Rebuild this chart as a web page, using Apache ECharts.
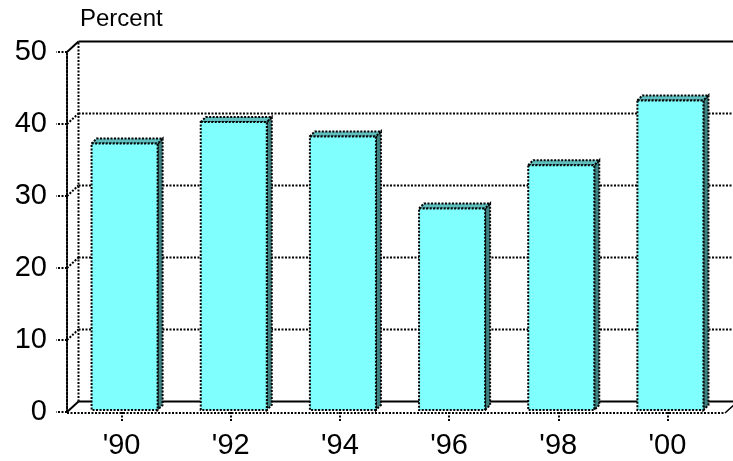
<!DOCTYPE html>
<html>
<head>
<meta charset="utf-8">
<script src="https://cdn.jsdelivr.net/npm/echarts@6/dist/echarts.min.js"></script>
<style>html,body{margin:0;padding:0;background:#fff}#c{width:733px;height:461px}</style>
</head>
<body>
<div id="c"></div>
<script>
const categories = ["'90", "'92", "'94", "'96", "'98", "'00"];
const percentValues = [37, 40, 38, 28, 34, 43];
const yTicks = [0, 10, 20, 30, 40, 50];

const FONT = '"Liberation Sans", Arial, sans-serif';
const WALL_DX = 11.5, WALL_DY = -10.5;   // depth of the 3D frame
const BAR_DX = 5, BAR_DY = -5;           // depth of each bar
const BAR_OX = 3, BAR_OY = -2;           // bar placement inside the depth
const DOT = [2, 1.5];
const LW = 2;

const chart = echarts.init(document.getElementById('c'), null, {renderer: 'canvas'});

function frameItem(params, api) {
  const cs = params.coordSys;
  const v = api.value(0);
  const p = api.coord([0, v]);
  const x0 = cs.x, y = p[1];
  const xb = x0 + WALL_DX, yb = y + WALL_DY;
  const xr = cs.x + cs.width + WALL_DX + 4;
  const children = [];
  const solid = (v === 0 || v === 50);
  children.push({type: 'line', shape: {x1: x0, y1: y, x2: xb, y2: yb},
    style: {stroke: '#000', lineWidth: solid ? 2 : LW, lineDash: solid ? null : DOT}});
  children.push({type: 'line', shape: {x1: xb, y1: yb, x2: xr, y2: yb},
    style: {stroke: '#000', lineWidth: solid ? 2.2 : LW, lineDash: solid ? null : DOT}});
  if (v === 0) {
    const top = api.coord([0, 50]);
    children.push({type: 'line', shape: {x1: xb, y1: yb, x2: xb, y2: top[1] + WALL_DY},
      style: {stroke: '#000', lineWidth: LW, lineDash: DOT}});
    const xf = cs.x + cs.width + 3;
    children.push({type: 'line', shape: {x1: x0, y1: y + 1, x2: xf, y2: y + 1},
      style: {stroke: '#000', lineWidth: 2.2, lineDash: DOT}});
    children.push({type: 'line', shape: {x1: xf, y1: y + 1, x2: xf + WALL_DX, y2: y + 1 + WALL_DY},
      style: {stroke: '#000', lineWidth: 1.5}});
  }
  return {type: 'group', children: children};
}

function barItem(params, api) {
  const i = api.value(0), v = api.value(1);
  const base = api.coord([i, 0]);
  const top = api.coord([i, v]);
  const w = api.size([1, 0])[0] * 0.605;
  const cx = base[0] + BAR_OX;
  const by = base[1] + BAR_OY, ty = top[1] + BAR_OY;
  const l = cx - w / 2, r = cx + w / 2;
  const stroke = {stroke: '#000', lineWidth: LW, lineDash: DOT};
  return {type: 'group', children: [
    {type: 'polygon', shape: {points: [[r, ty], [r + BAR_DX, ty + BAR_DY], [r + BAR_DX, by + BAR_DY], [r, by]]},
      style: Object.assign({fill: '#3f8080'}, stroke)},
    {type: 'polygon', shape: {points: [[l, ty], [l + BAR_DX, ty + BAR_DY], [r + BAR_DX, ty + BAR_DY], [r, ty]]},
      style: Object.assign({fill: '#5fbfbf'}, stroke)},
    {type: 'rect', shape: {x: l, y: ty, width: w, height: by - ty},
      style: Object.assign({fill: '#80ffff'}, stroke)}
  ]};
}

chart.setOption({
  animation: false,
  backgroundColor: '#fff',
  textStyle: {fontFamily: FONT},
  grid: {left: 67, top: 52, width: 655, height: 360},
  xAxis: {
    type: 'category', data: categories, boundaryGap: true,
    axisLine: {show: false},
    axisTick: {show: true, alignWithLabel: true, length: 9, lineStyle: {color: '#000', width: LW, type: DOT}},
    axisLabel: {fontSize: 29, color: '#000', margin: 19, fontFamily: FONT}
  },
  yAxis: {
    type: 'value', min: 0, max: 50, interval: 10,
    name: 'Percent', nameLocation: 'end', nameGap: 33,
    nameTextStyle: {fontSize: 24, color: '#000', align: 'left', verticalAlign: 'middle', padding: [0, 0, 0, 13], fontFamily: FONT},
    axisLine: {show: true, lineStyle: {color: '#000', width: LW, type: DOT}},
    axisTick: {show: true, length: 11, lineStyle: {color: '#000', width: LW, type: DOT}},
    axisLabel: {fontSize: 29, color: '#000', margin: 20, fontFamily: FONT},
    splitLine: {show: false}
  },
  series: [
    {type: 'custom', name: 'frame', renderItem: frameItem, data: yTicks.map(v => [v]),
      encode: {y: 0}, z: 1, silent: true},
    {type: 'custom', name: 'Percent', renderItem: barItem,
      data: percentValues.map((v, i) => [i, v]), encode: {x: 0, y: 1}, z: 3}
  ]
});
</script>
</body>
</html>
